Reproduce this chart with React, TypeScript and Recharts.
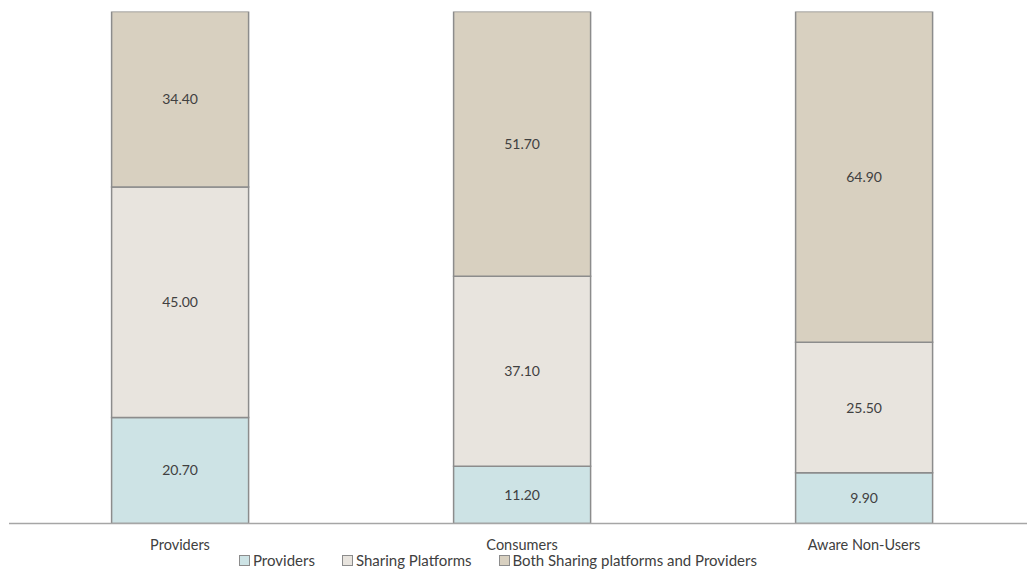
import { Bar, BarChart, XAxis, YAxis, LabelList } from "recharts"

const categories = ["Providers", "Consumers", "Aware Non-Users"]
const providersShare = [20.7, 11.2, 9.9]
const platformsShare = [45.0, 37.1, 25.5]
const bothShare = [34.4, 51.7, 64.9]

const seriesNames = ["Providers", "Sharing Platforms", "Both Sharing platforms and Providers"]
const seriesColors = ["#cde3e5", "#e8e4de", "#d8d0c0"]

const data = categories.map((name, i) => ({
  name,
  providers: providersShare[i],
  platforms: platformsShare[i],
  both: bothShare[i],
}))

const font = "Lato, 'Open Sans', sans-serif"
const strokeColor = "#8c8c8c"

export default function App() {
  const labelStyle = { fill: "#404040", fontSize: 14, fontFamily: font }
  return (
    <div style={{ position: "fixed", left: 0, top: 0, width: 1027, height: 570, overflow: "hidden", background: "#fff" }}>
      <BarChart
        width={1040}
        height={570}
        data={data}
        barCategoryGap="30%"
        margin={{ top: 11.5, right: 5, left: 9, bottom: 16.5 }}
      >
        <XAxis
          dataKey="name"
          axisLine={{ stroke: "#a6a6a6", strokeWidth: 1.5 }}
          tickLine={false}
          tickMargin={10}
          tick={{ fill: "#404040", fontSize: 14.5, fontFamily: font }}
          height={30}
        />
        <YAxis hide domain={[0, 100]} allowDataOverflow />
        <Bar dataKey="providers" stackId="a" fill={seriesColors[0]} stroke={strokeColor} strokeWidth={1.5} isAnimationActive={false}>
          <LabelList dataKey="providers" position="center" formatter={(v: number) => v.toFixed(2)} style={labelStyle} />
        </Bar>
        <Bar dataKey="platforms" stackId="a" fill={seriesColors[1]} stroke={strokeColor} strokeWidth={1.5} isAnimationActive={false}>
          <LabelList dataKey="platforms" position="center" formatter={(v: number) => v.toFixed(2)} style={labelStyle} />
        </Bar>
        <Bar dataKey="both" stackId="a" fill={seriesColors[2]} stroke={strokeColor} strokeWidth={1.5} isAnimationActive={false}>
          <LabelList dataKey="both" position="center" formatter={(v: number) => v.toFixed(2)} style={labelStyle} />
        </Bar>
      </BarChart>
      <div
        style={{
          position: "absolute",
          left: 239,
          top: 551,
          display: "flex",
          gap: 27,
          fontFamily: font,
          fontSize: 15,
          color: "#404040",
          whiteSpace: "nowrap",
        }}
      >
        {seriesNames.map((s, i) => (
          <div key={s} style={{ display: "flex", alignItems: "center" }}>
            <span
              style={{
                display: "inline-block",
                width: 9,
                height: 9,
                background: seriesColors[i],
                border: "1px solid #8c8c8c",
                marginRight: 3,
              }}
            />
            {s}
          </div>
        ))}
      </div>
    </div>
  )
}
